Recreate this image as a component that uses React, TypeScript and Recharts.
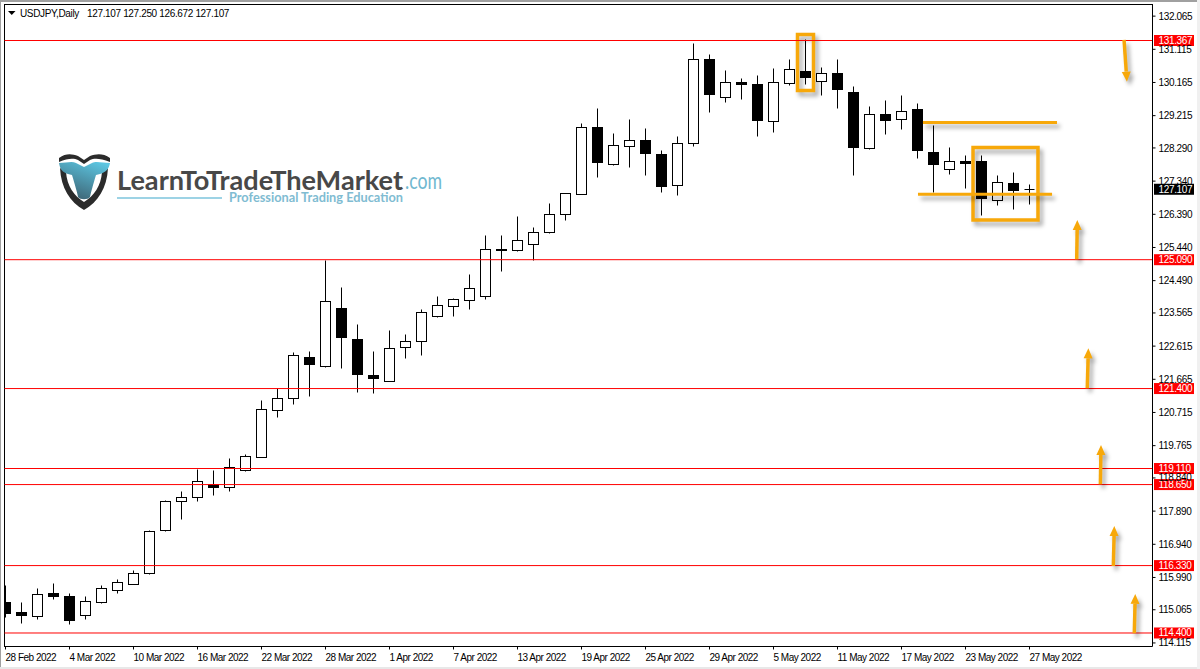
import { Bar, ComposedChart, ReferenceArea, ReferenceLine, XAxis, YAxis } from "recharts"

const FONT = "'Liberation Sans', Arial, sans-serif"
const LOGO_FONT = "Lato, 'Open Sans', sans-serif"
const ORANGE = "#F7A80A"
const SHADOW = "drop-shadow(3px 4px 2px rgba(0,0,0,0.35))"

const opens = [
  115.279, 114.993, 114.878, 115.517, 115.459, 114.907, 115.268, 115.623, 115.794, 116.098, 117.329, 118.171, 118.286,
  118.647, 118.572, 119.059, 119.431, 120.777, 121.121, 122.295, 122.026, 123.698, 122.81, 121.78, 121.608, 122.581,
  122.753, 123.469, 123.756, 123.927, 124.042, 125.388, 125.359, 125.531, 125.875, 126.39, 126.963, 128.882, 127.811,
  128.337, 128.509, 128.108, 127.221, 128.423, 130.829, 129.741, 130.15, 130.113, 129.053, 130.142, 130.485, 130.199,
  130.436, 129.892, 128.28, 129.234, 129.111, 129.377, 128.146, 127.679, 127.888, 127.888, 126.791, 127.278, 127.107,
]
const highs = [
  115.774, 115.279, 115.688, 115.803, 115.537, 115.459, 115.774, 115.937, 116.195, 117.349, 118.2, 118.438, 119.096,
  119.039, 119.411, 119.497, 121.044, 121.407, 122.418, 122.447, 125.081, 124.308, 123.22, 122.447, 123.048, 122.962,
  123.67, 124.05, 123.985, 124.68, 125.769, 125.769, 126.313, 126.026, 126.685, 126.991, 128.976, 129.406, 128.718,
  129.119, 128.861, 128.223, 128.604, 131.267, 130.952, 130.494, 130.293, 130.379, 130.551, 130.809, 131.382, 130.58,
  130.809, 130.064, 129.463, 129.635, 129.778, 129.549, 128.947, 128.289, 128.06, 128.088, 127.487, 127.573, 127.25,
]
const lows = [
  114.838, 114.666, 114.772, 115.354, 114.638, 114.772, 115.239, 115.517, 115.794, 116.07, 117.292, 117.664, 118.16,
  118.332, 118.446, 119.03, 119.431, 120.565, 120.938, 121.167, 121.989, 121.969, 121.281, 121.253, 121.608, 122.255,
  122.341, 123.429, 123.449, 123.65, 123.945, 124.746, 125.319, 125.061, 125.846, 126.207, 126.963, 127.438, 127.782,
  127.725, 127.495, 127.009, 126.923, 128.326, 129.3, 129.586, 129.672, 128.612, 128.727, 130.073, 130.093, 129.786,
  129.414, 127.495, 128.24, 128.67, 128.813, 127.982, 127.009, 127.524, 127.123, 126.35, 126.636, 126.522, 126.672,
]
const closes = [
  114.952, 114.895, 115.508, 115.439, 114.752, 115.308, 115.68, 115.852, 116.11, 117.292, 118.171, 118.286, 118.744,
  118.561, 119.145, 119.46, 120.806, 121.121, 122.352, 122.083, 123.899, 122.856, 121.797, 121.682, 122.553, 122.753,
  123.584, 123.784, 123.956, 124.26, 125.388, 125.348, 125.646, 125.875, 126.39, 126.991, 128.882, 127.868, 128.366,
  128.509, 128.126, 127.18, 128.423, 130.829, 129.815, 130.17, 130.101, 129.071, 130.17, 130.542, 130.302, 130.428,
  129.958, 128.297, 129.254, 129.071, 129.34, 128.211, 127.811, 127.908, 127.851, 126.837, 127.306, 127.066, 127.107,
]

const timeTicks = [0, 4, 8, 12, 16, 20, 24, 28, 32, 36, 40, 44, 48, 52, 56, 60, 64]
const timeLabels = [
  "28 Feb 2022", "4 Mar 2022", "10 Mar 2022", "16 Mar 2022", "22 Mar 2022", "28 Mar 2022", "1 Apr 2022", "7 Apr 2022",
  "13 Apr 2022", "19 Apr 2022", "25 Apr 2022", "29 Apr 2022", "5 May 2022", "11 May 2022", "17 May 2022", "23 May 2022",
  "27 May 2022",
]
const priceTicks = [
  132.065, 131.115, 130.165, 129.215, 128.29, 127.34, 126.39, 125.44, 124.49, 123.565, 122.615, 121.665, 120.715,
  119.765, 118.84, 117.89, 116.94, 115.99, 115.065, 114.115,
]
const levels = [131.367, 125.09, 121.4, 119.11, 118.65, 116.33, 114.4]
const lastPrice = 127.107

// drawn annotations, in [bar index, price]
const boxes = [
  [49.5, 131.539, 50.5, 129.935],
  [60.47, 128.303, 64.53, 126.227],
]
const hLines = [
  [57.34, 65.72, 129.019],
  [57.03, 65.41, 126.963],
]
const arrows = [
  [69.91, 131.382, 70.09, 130.187],
  [66.95, 125.101, 66.99, 126.227],
  [67.61, 121.407, 67.68, 122.553],
  [68.43, 118.658, 68.47, 119.784],
  [69.24, 116.318, 69.3, 117.464],
  [70.55, 114.391, 70.61, 115.517],
]

const candles = opens.map((open, i) => ({
  i,
  open,
  high: highs[i],
  low: lows[i],
  close: closes[i],
  range: [lows[i], highs[i]],
}))

const px = (v: number) => Math.round(v - 0.5) + 0.5

function Candle(props: any) {
  const { x, y, width, height, payload } = props
  const cx = px(x + width / 2)
  const scale = height / (payload.high - payload.low)
  const yOf = (p: number) => y + (payload.high - p) * scale
  const top = px(yOf(Math.max(payload.open, payload.close)))
  const bottom = px(yOf(Math.min(payload.open, payload.close)))
  const bear = payload.close < payload.open
  return (
    <g>
      <line x1={cx} x2={cx} y1={px(y)} y2={px(y + height)} stroke="#000" strokeWidth={1} />
      {bottom === top ? (
        <line x1={cx - 5} x2={cx + 5} y1={top} y2={top} stroke="#000" strokeWidth={1} />
      ) : (
        <rect
          x={cx - 5}
          y={top}
          width={10}
          height={bottom - top}
          fill={bear ? "#000" : "#fff"}
          stroke="#000"
          strokeWidth={1}
        />
      )}
    </g>
  )
}

function TimeTick({ x, y, payload }: any) {
  const label = timeLabels[timeTicks.indexOf(payload.value)]
  return (
    <text x={x} y={y + 9} fontFamily={FONT} fontSize={10} letterSpacing={-0.5} fill="#000" textAnchor="start">
      {label}
    </text>
  )
}

function PriceTag({ viewBox, value, fill }: any) {
  const y = viewBox.y
  return (
    <g>
      <rect x={1154} y={y - 5.5} width={40} height={11} fill={fill} />
      <text x={1158.5} y={y + 3.5} fontFamily={FONT} fontSize={10} letterSpacing={-0.35} fill="#fff">
        {value.toFixed(3)}
      </text>
    </g>
  )
}

function Arrow({ x1, y1, x2, y2 }: any) {
  const dx = x2 - x1
  const dy = y2 - y1
  const len = Math.hypot(dx, dy)
  const ux = dx / len
  const uy = dy / len
  const bx = x2 - ux * 10
  const by = y2 - uy * 10
  return (
    <g style={{ filter: SHADOW }}>
      <line x1={x1} y1={y1} x2={bx} y2={by} stroke={ORANGE} strokeWidth={3.5} />
      <polygon
        points={`${x2},${y2} ${bx - uy * 4.5},${by + ux * 4.5} ${bx + uy * 4.5},${by - ux * 4.5}`}
        fill={ORANGE}
      />
    </g>
  )
}

function ThickLine({ x1, y1, x2, y2 }: any) {
  return <line x1={x1} y1={y1} x2={x2} y2={y2} stroke={ORANGE} strokeWidth={3} style={{ filter: SHADOW }} />
}

function Box({ x, y, width, height }: any) {
  return (
    <rect x={x} y={y} width={width} height={height} fill="none" stroke={ORANGE} strokeWidth={3.5} style={{ filter: SHADOW }} />
  )
}

function Logo() {
  return (
    <svg width={1200} height={669} style={{ position: "absolute", left: 0, top: 0 }}>
      <defs>
        <linearGradient id="bull" x1="0.8" y1="0" x2="0.3" y2="1">
          <stop offset="0" stopColor="#5cc6e2" />
          <stop offset="1" stopColor="#3e6474" />
        </linearGradient>
      </defs>
      <path
        d="M60 168 C61 188 70 202 84 210 C98 202 107 188 108 168 L102 172 C101 186 94 196 84 202 C74 196 67 186 66 172 Z"
        fill="#2b2b2b"
      />
      <path
        d="M59 158 C66 153 72 154 78 156 L84 160 L90 156 C96 154 103 153 110 158 L110 162 C100 158 94 158 90 160 L84 164 L78 160 C74 158 68 158 59 162 Z"
        fill="#2b2b2b"
      />
      <path
        d="M59 163 C66 163 72 161 76 163 L84 167 L92 163 C96 161 103 163 110 163 C109 169 106 172 100 174 L96 175 C93 185 91 192 90 197 C88 200 80 200 78 197 C77 192 75 185 72 175 L68 174 C62 172 60 169 59 163 Z"
        fill="url(#bull)"
      />
      <text x={117} y={189.5} fontFamily={LOGO_FONT} fontWeight={700} fontSize={27} fill="#484848" textLength={286} lengthAdjust="spacingAndGlyphs">
        LearnToTradeTheMarket
      </text>
      <text x={405} y={189} fontFamily={LOGO_FONT} fontSize={23} fill="#70b8d0" textLength={37} lengthAdjust="spacingAndGlyphs">
        .com
      </text>
      <line x1={117} x2={222} y1={198} y2={198} stroke="#7cc4dc" strokeWidth={1.5} />
      <text x={229} y={202} fontFamily={LOGO_FONT} fontWeight={700} fontSize={14} fill="#80bcd2" textLength={174} lengthAdjust="spacingAndGlyphs">
        Professional Trading Education
      </text>
      <polygon points="8,11 15.5,11 11.75,15" fill="#000" />
      <text x={20} y={16.5} fontFamily={FONT} fontSize={10} letterSpacing={-0.35} fill="#000">
        USDJPY,Daily
      </text>
      <text x={87} y={16.5} fontFamily={FONT} fontSize={10} letterSpacing={-0.35} fill="#000" xmlSpace="preserve">
        127.107 127.250 126.672 127.107
      </text>
    </svg>
  )
}

export default function App() {
  return (
    <div style={{ position: "fixed", left: 0, top: 0, width: 1200, height: 669, background: "#fff", overflow: "hidden" }}>
      <div style={{ position: "absolute", left: 0, top: 0, width: 1200, height: 2, background: "#a0a0a0" }} />
      <div style={{ position: "absolute", left: 0, top: 0, width: 1, height: 669, background: "#a0a0a0" }} />
      <div style={{ position: "absolute", left: 0, top: 667, width: 1200, height: 2, background: "#e8e8e8" }} />
      <div style={{ position: "absolute", left: 1197, top: 0, width: 3, height: 669, background: "#f0f0f0" }} />
      <div style={{ position: "absolute", left: 4, top: 4, width: 1148, height: 642, borderLeft: "1px solid #000", borderTop: "1px solid #000" }} />
      <Logo />
      <div style={{ position: "absolute", left: 0, top: 0 }}>
        <ComposedChart
          width={1200}
          height={669}
          data={candles}
          margin={{ top: 4.5, right: 0, bottom: 0, left: 4.5 }}
          barSize={11}
        >
          <XAxis
            dataKey="i"
            type="number"
            domain={[-0.0625, 71.6875]}
            allowDataOverflow
            ticks={timeTicks}
            interval={0}
            height={22.5}
            tickSize={3}
            tick={<TimeTick />}
            axisLine={{ stroke: "#000" }}
            tickLine={{ stroke: "#000" }}
          />
          <YAxis
            orientation="right"
            type="number"
            domain={[114.013, 132.398]}
            ticks={priceTicks}
            interval={0}
            width={47.5}
            tickSize={3}
            tickMargin={3}
            tickFormatter={(v: number) => v.toFixed(3)}
            tick={{ fontFamily: FONT, fontSize: 10, fill: "#000", letterSpacing: -0.35 }}
            axisLine={{ stroke: "#000" }}
            tickLine={{ stroke: "#000" }}
          />
          <Bar dataKey="range" shape={<Candle />} isAnimationActive={false} />
          {levels.map((level) => (
            <ReferenceLine
              key={level}
              y={level}
              stroke="#ff0000"
              strokeWidth={1}
              label={<PriceTag value={level} fill="#ff0000" />}
            />
          ))}
          <ReferenceLine y={lastPrice} stroke="none" label={<PriceTag value={lastPrice} fill="#000" />} />
          {boxes.map((b) => (
            <ReferenceArea key={b[0]} x1={b[0]} y1={b[1]} x2={b[2]} y2={b[3]} shape={<Box />} />
          ))}
          {hLines.map((l) => (
            <ReferenceLine key={l[2]} segment={[{ x: l[0], y: l[2] }, { x: l[1], y: l[2] }]} shape={<ThickLine />} />
          ))}
          {arrows.map((a) => (
            <ReferenceLine key={a[0]} segment={[{ x: a[0], y: a[1] }, { x: a[2], y: a[3] }]} shape={<Arrow />} />
          ))}
        </ComposedChart>
      </div>
    </div>
  )
}
